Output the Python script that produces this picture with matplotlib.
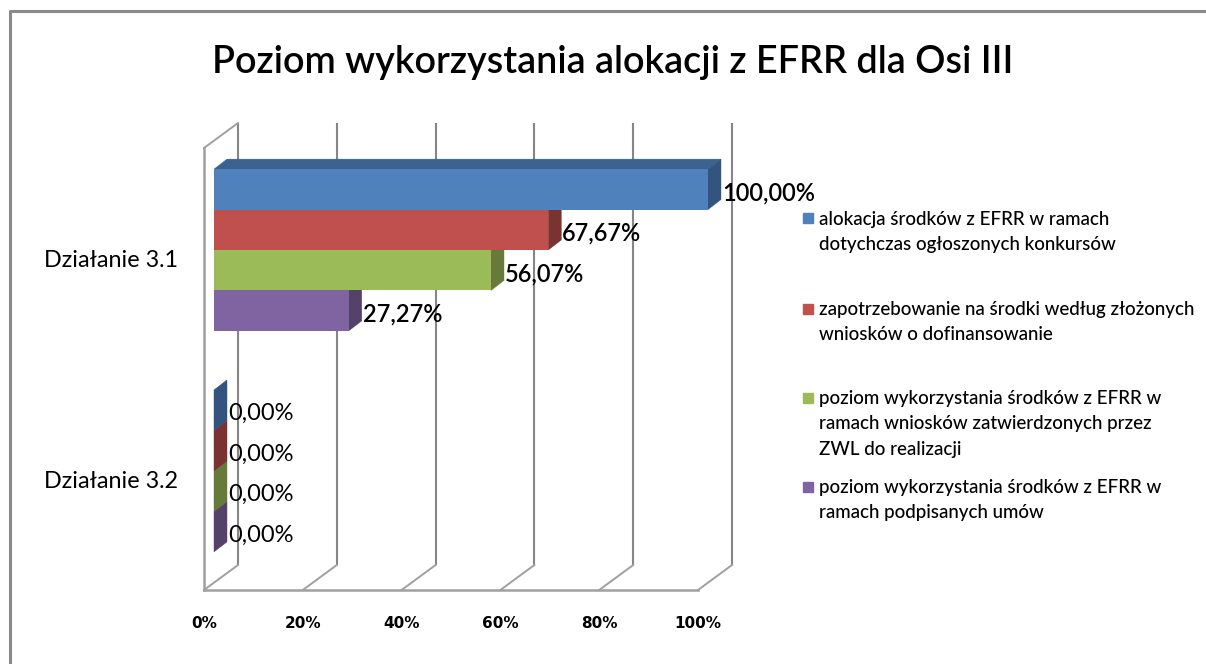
#!/usr/bin/env python

import matplotlib
matplotlib.use('Agg')
import matplotlib.pyplot as plt
from matplotlib.lines import Line2D
from matplotlib.patches import Polygon
from matplotlib.transforms import Affine2D, IdentityTransform

categories = ['Działanie 3.1', 'Działanie 3.2']
series_names = [
    'alokacja środków z EFRR w ramach\ndotychczas ogłoszonych konkursów',
    'zapotrzebowanie na środki według złożonych\nwniosków o dofinansowanie',
    'poziom wykorzystania środków z EFRR w\nramach wniosków zatwierdzonych przez\nZWL do realizacji',
    'poziom wykorzystania środków z EFRR w\nramach podpisanych umów',
]
series_values = [
    [100.00, 0.00],
    [67.67, 0.00],
    [56.07, 0.00],
    [27.27, 0.00],
]
front_colors = ['#4f81bd', '#c0504d', '#9bbb59', '#8064a2']
side_colors = ['#33547f', '#7a3331', '#667b3a', '#54426b']
top_colors = ['#3c6290', '#8f3c3a', '#77903f', '#634d7e']
x_ticks = [0, 20, 40, 60, 80, 100]
x_labels = ['0%', '20%', '40%', '60%', '80%', '100%']
title = 'Poziom wykorzystania alokacji z EFRR dla Osi III'

WIDTH, HEIGHT = 1206, 664
WALL = '#868686'
BAR_HEIGHT = 0.183

plt.rcParams['font.family'] = ['Lato', 'DejaVu Sans']


def px(x, y):
    return x / WIDTH, 1 - y / HEIGHT


fig = plt.figure(figsize=(WIDTH / 100, HEIGHT / 100), dpi=100)
ax = fig.add_axes([204 / WIDTH, 74 / HEIGHT, 494 / WIDTH, 442 / HEIGHT])
ax.set_xlim(0, 100)
ax.set_ylim(1.5, -0.5)

front = ax.transData + Affine2D().translate(10, 8.5)
back = ax.transData + Affine2D().translate(23, 18.5)
wall = ax.transData + Affine2D().translate(34, 25)

# back wall with gridlines and the floor / side diagonals
ax.vlines(x_ticks, 1.5, -0.5, color=WALL, lw=1.5, transform=wall, zorder=1,
          clip_on=False)
for tick in x_ticks:
    start = ax.transData.transform((tick, 1.5))
    end = wall.transform((tick, 1.5))
    ax.add_line(Line2D([start[0], end[0]], [start[1], end[1]], color='#a0a0a0',
                       lw=1.4, transform=IdentityTransform(), zorder=1,
                       clip_on=False))
start = ax.transData.transform((0, -0.5))
end = wall.transform((0, -0.5))
ax.add_line(Line2D([start[0], end[0]], [start[1], end[1]], color='#a0a0a0', lw=1.4,
                   transform=IdentityTransform(), zorder=1, clip_on=False))

# bars, bottom one first so the upper ones cover its top face
for s in reversed(range(len(series_values))):
    for c, value in enumerate(series_values[s]):
        y_top = c + (s - 2) * BAR_HEIGHT
        y_bot = y_top + BAR_HEIGHT
        zorder = 3 + (len(series_values) - s) * 0.1
        side = [front.transform((value, y_top)), front.transform((value, y_bot)),
                back.transform((value, y_bot)), back.transform((value, y_top))]
        roof = [front.transform((0, y_top)), front.transform((value, y_top)),
                back.transform((value, y_top)), back.transform((0, y_top))]
        ax.add_patch(Polygon(roof, facecolor=top_colors[s], edgecolor=top_colors[s],
                             lw=0.3, transform=IdentityTransform(), zorder=zorder,
                             clip_on=False))
        ax.add_patch(Polygon(side, facecolor=side_colors[s], edgecolor=side_colors[s],
                             lw=0.3, transform=IdentityTransform(), zorder=zorder,
                             clip_on=False))
        if value > 0:
            ax.barh(y_top + BAR_HEIGHT / 2, value, height=BAR_HEIGHT,
                    color=front_colors[s], transform=front, zorder=zorder,
                    clip_on=False)
        weight = 'normal' if value == 0 else 'semibold'
        ax.annotate(f'{value:.2f}%'.replace('.', ','),
                    xy=(value, y_top + BAR_HEIGHT / 2), xycoords=front,
                    xytext=(14, -3.5), textcoords='offset pixels', ha='left',
                    va='center', fontsize=17, fontweight=weight, color='black',
                    zorder=6, annotation_clip=False)

ax.set_xticks(x_ticks)
ax.set_xticklabels(x_labels, fontsize=11, fontweight='bold',
                   family=['DejaVu Sans'])
ax.set_yticks(range(len(categories)))
ax.set_yticklabels(categories, fontsize=16.8)
ax.tick_params(axis='x', length=0, pad=19, colors='black')
ax.tick_params(axis='y', length=0, pad=19, colors='black')
for name in ['top', 'right']:
    ax.spines[name].set_visible(False)
for name in ['left', 'bottom']:
    ax.spines[name].set_color('#a0a0a0')
    ax.spines[name].set_linewidth(1.8)
ax.patch.set_alpha(0)

fig.text(*px(613, 63), title, fontsize=27.2, fontweight='semibold', ha='center',
         va='center', color='black')

# legend
legend_y = [232, 322, 424, 500]
marker_y = [218, 309, 398, 487]
for name, color, ly, my in zip(series_names, front_colors, legend_y, marker_y):
    fig.text(*px(819, ly), name, fontsize=13.5, fontweight='medium', ha='left',
             va='center', linespacing=1.58, color='black')
    fig.add_artist(Line2D([px(808, my)[0]], [px(808, my)[1]], marker='s', ms=7.5,
                          color=color, lw=0, transform=fig.transFigure))

# outer frame, only its top and left edge fit in the picture
fig.add_artist(Line2D([px(10, 0)[0], px(10, 0)[0], 1], [0, px(0, 11)[1], px(0, 11)[1]],
                      color='#8a8a8a', lw=2.2, transform=fig.transFigure))

fig.savefig('out.png', dpi=100)
